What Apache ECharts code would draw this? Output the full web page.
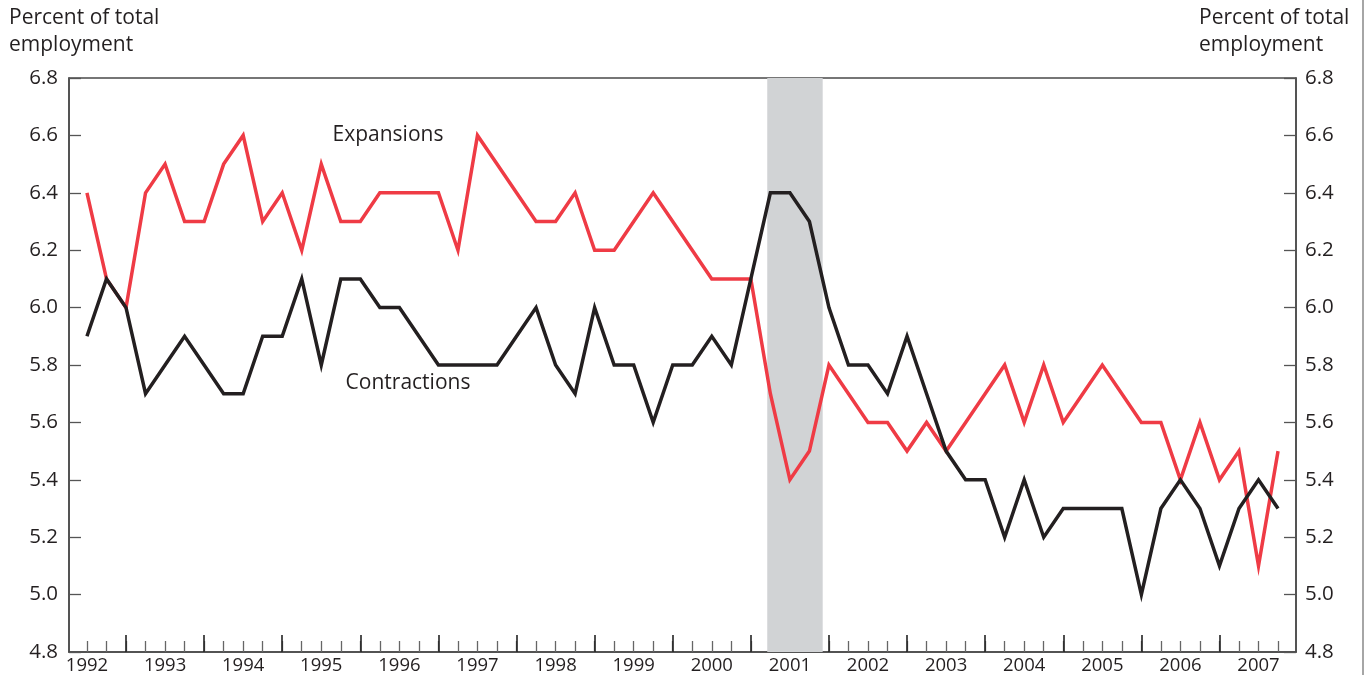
<!DOCTYPE html>
<html>
<head>
<meta charset="utf-8">
<script src="https://cdn.jsdelivr.net/npm/echarts@6/dist/echarts.min.js"></script>
<style>html,body{margin:0;padding:0;background:#fff}#c{width:1366px;height:675px}</style>
</head>
<body>
<div id="c"></div>
<script>
// Quarterly data, first observation 1992 Q3 (plotted at 1992.5), one value per quarter
const firstQuarter = 1992.5;
const quarterStep = 0.25;
const expansions = [
  6.4, 6.1, 6.0, 6.4, 6.5, 6.3, 6.3, 6.5, 6.6, 6.3,
  6.4, 6.2, 6.5, 6.3, 6.3, 6.4, 6.4, 6.4, 6.4, 6.2,
  6.6, 6.5, 6.4, 6.3, 6.3, 6.4, 6.2, 6.2, 6.3, 6.4,
  6.3, 6.2, 6.1, 6.1, 6.1, 5.7, 5.4, 5.5, 5.8, 5.7,
  5.6, 5.6, 5.5, 5.6, 5.5, 5.6, 5.7, 5.8, 5.6, 5.8,
  5.6, 5.7, 5.8, 5.7, 5.6, 5.6, 5.4, 5.6, 5.4, 5.5,
  5.1, 5.5
];
const contractions = [
  5.9, 6.1, 6.0, 5.7, 5.8, 5.9, 5.8, 5.7, 5.7, 5.9,
  5.9, 6.1, 5.8, 6.1, 6.1, 6.0, 6.0, 5.9, 5.8, 5.8,
  5.8, 5.8, 5.9, 6.0, 5.8, 5.7, 6.0, 5.8, 5.8, 5.6,
  5.8, 5.8, 5.9, 5.8, 6.1, 6.4, 6.4, 6.3, 6.0, 5.8,
  5.8, 5.7, 5.9, 5.7, 5.5, 5.4, 5.4, 5.2, 5.4, 5.2,
  5.3, 5.3, 5.3, 5.3, 5.0, 5.3, 5.4, 5.3, 5.1, 5.3,
  5.4, 5.3
];
const yearLabels = [1992,1993,1994,1995,1996,1997,1998,1999,2000,2001,2002,2003,2004,2005,2006,2007];
const recession = [2001.21, 2001.92];
const axisTitle = 'Percent of total\nemployment';
const seriesNames = ['Expansions', 'Contractions'];

const xs = expansions.map((_, i) => firstQuarter + i * quarterStep);
const expData = expansions.map((v, i) => [xs[i], v]);
const conData = contractions.map((v, i) => [xs[i], v]);
const majorTicks = yearLabels.filter(y => y > xs[0] && y < xs[xs.length - 1] + 0.3);
const labelPos = yearLabels.map(y => y + 0.5);

const FONT = 'Open Sans';
const AX = '#4a4a4a';
const chart = echarts.init(document.getElementById('c'), null, {renderer: 'canvas'});
const xMin = 1992.27, xMax = 2007.98;
const baseX = {
  type: 'value', min: xMin, max: xMax, position: 'bottom',
  splitLine: {show: false}
};
chart.setOption({
  animation: false,
  grid: {left: 69, right: 70, top: 78, bottom: 23, show: true, borderColor: AX, borderWidth: 1.5, backgroundColor: 'transparent'},
  xAxis: [
    Object.assign({}, baseX, {
      axisLine: {show: true, onZero: false, lineStyle: {color: AX, width: 1.5}},
      axisTick: {show: true, inside: true, length: 11, customValues: xs, lineStyle: {color: '#666', width: 1.3}},
      axisLabel: {show: true, customValues: labelPos, formatter: v => String(Math.floor(v)), color: '#231f20', fontFamily: FONT, fontSize: 18.5, margin: 4}
    }),
    Object.assign({}, baseX, {
      axisLine: {show: false, onZero: false},
      axisTick: {show: true, inside: true, length: 17, customValues: majorTicks, lineStyle: {color: '#222', width: 1.6}},
      axisLabel: {show: false}
    })
  ],
  yAxis: [
    {type: 'value', min: 4.8, max: 6.8, interval: 0.2, position: 'left',
     splitLine: {show: false},
     axisLine: {show: true, lineStyle: {color: AX, width: 1.5}},
     axisTick: {show: true, inside: true, length: 12, lineStyle: {color: '#555', width: 1.3}},
     axisLabel: {formatter: v => v.toFixed(1), color: '#231f20', fontFamily: FONT, fontSize: 20.5, margin: 11}},
    {type: 'value', min: 4.8, max: 6.8, interval: 0.2, position: 'right',
     splitLine: {show: false},
     axisLine: {show: true, lineStyle: {color: AX, width: 1.5}},
     axisTick: {show: true, inside: true, length: 12, lineStyle: {color: '#555', width: 1.3}},
     axisLabel: {formatter: v => v.toFixed(1), color: '#231f20', fontFamily: FONT, fontSize: 20.5, margin: 9}}
  ],
  series: [
    {name: 'recession', type: 'line', data: [], xAxisIndex: 0, yAxisIndex: 0,
     markArea: {silent: true, itemStyle: {color: '#d1d3d5'}, data: [[{xAxis: recession[0], yAxis: 4.8}, {xAxis: recession[1], yAxis: 6.8}]]}},
    {name: seriesNames[0], type: 'line', data: expData, showSymbol: false, symbol: 'none',
     lineStyle: {color: '#ef3b45', width: 3.5, join: 'miter'}, z: 3},
    {name: seriesNames[1], type: 'line', data: conData, showSymbol: false, symbol: 'none',
     lineStyle: {color: '#231f20', width: 3.5, join: 'miter'}, z: 4}
  ],
  graphic: [
    {type: 'text', left: 9, top: 5, style: {text: axisTitle, font: '21px "Open Sans"', fill: '#231f20', lineHeight: 27}},
    {type: 'text', left: 1199, top: 5, style: {text: axisTitle, font: '21px "Open Sans"', fill: '#231f20', lineHeight: 27}},
    {type: 'text', x: 388, y: 135, style: {text: seriesNames[0], font: '21px "Open Sans"', fill: '#231f20', align: 'center', verticalAlign: 'middle'}},
    {type: 'text', x: 408, y: 383, style: {text: seriesNames[1], font: '21px "Open Sans"', fill: '#231f20', align: 'center', verticalAlign: 'middle'}},
    {type: 'line', shape: {x1: 1363, y1: 0, x2: 1363, y2: 675}, style: {stroke: '#888', lineWidth: 1.5}}
  ]
});
</script>
</body>
</html>
